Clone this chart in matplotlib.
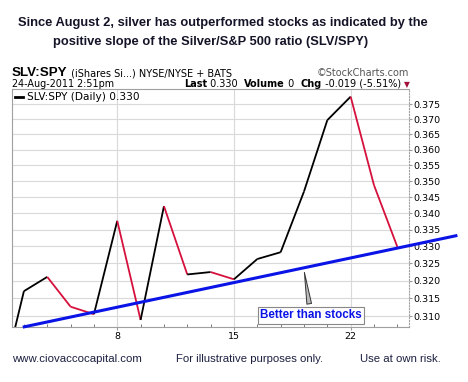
import numpy as np
import matplotlib.pyplot as plt
from matplotlib.ticker import FixedLocator, FormatStrFormatter, NullFormatter

# 2011年8月 SLV:SPY 日足 (index 0 = Aug 1)
days = [1, 2, 3, 4, 5, 8, 9, 10, 11, 12, 15, 16, 17, 18, 19, 22, 23, 24]
ratio = [0.2906, 0.3170, 0.3211, 0.3126, 0.3105, 0.3377, 0.3089, 0.3422, 0.3218,
         0.3225, 0.3204, 0.3263, 0.3283, 0.3467, 0.3697, 0.3776, 0.3487, 0.3299]
tick_days = [8, 15, 22]
y_ticks = [0.310, 0.315, 0.320, 0.325, 0.330, 0.335, 0.340, 0.345,
           0.350, 0.355, 0.360, 0.365, 0.370, 0.375]
# トレンドライン (index, value)
trend_x = [1.015, 19.51]
trend_y = [0.3070, 0.3332]

plt.rcParams['font.family'] = ['DejaVu Sans']
W, H = 468, 382
fig = plt.figure(figsize=(W / 100, H / 100), dpi=100)
ARIAL = ['Liberation Sans', 'DejaVu Sans']

def fx(px):
    return px / W

def fy(py):
    return 1 - py / H

ax = fig.add_axes([fx(12), fy(327), fx(409) - fx(12), fy(89) - fy(327)])
ax.set_yscale('log')
idx = np.arange(len(days))

# 上昇は黒、下落は赤
for i in range(len(idx) - 1):
    c = 'black' if ratio[i + 1] >= ratio[i] else '#d6103c'
    ax.plot(idx[i:i + 2], ratio[i:i + 2], color=c, lw=1.3, solid_capstyle='butt')

ax.plot(trend_x, trend_y, color='#0a14e6', lw=2.2, clip_on=False, zorder=5)

ax.set_xlim(0.49, 17.5)
ax.set_ylim(0.30695, 0.3802)

ax.yaxis.set_major_locator(FixedLocator(y_ticks))
ax.yaxis.set_major_formatter(FormatStrFormatter('%.3f'))
ax.yaxis.set_minor_formatter(NullFormatter())
ax.yaxis.set_minor_locator(FixedLocator([]))
ax.yaxis.tick_right()
ax.tick_params(axis='y', which='major', labelsize=6.8, length=2, color='#999999', pad=1, direction='out')

ax.xaxis.set_major_locator(FixedLocator([days.index(d) for d in tick_days]))
ax.set_xticklabels([str(d) for d in tick_days])
ax.xaxis.set_minor_locator(FixedLocator(list(idx)))
ax.tick_params(axis='x', which='major', labelsize=6.8, length=2, color='#999999', pad=1.5)
ax.tick_params(axis='x', which='minor', length=2, color='#666666', direction='in')

ax.grid(axis='y', color='#d9d9d9', lw=0.8)
ax.grid(axis='x', which='major', color='#d9d9d9', lw=0.8)
ax.set_axisbelow(True)
for s in ['left', 'bottom', 'top']:
    ax.spines[s].set_color('#a0a0a0')
ax.spines['right'].set_color('#a0a0a0')
ax.spines['right'].set_linestyle(':')

# 凡例
ax.plot([0.008, 0.028], [0.966, 0.966], transform=ax.transAxes, color='black', lw=2)
ax.text(0.038, 0.966, 'SLV:SPY (Daily) 0.330', transform=ax.transAxes, fontsize=7.6,
        va='center', ha='left')

# 注釈
ax.annotate('Better than stocks', xy=(13.0, 0.3232), xycoords='data',
            xytext=(13.3, 0.3102), textcoords='data', ha='center', va='center',
            fontsize=8.4, fontweight='bold', color='#0a14e6', family=ARIAL,
            bbox=dict(boxstyle='square,pad=0.2', fc='white', ec='#888888', lw=0.8),
            arrowprops=dict(arrowstyle='wedge,tail_width=0.4', fc='#bbbbbb', ec='#333333', lw=0.7))

# タイトル
fig.text(fx(223), fy(23), 'Since August 2, silver has outperformed stocks as indicated by the',
         ha='center', va='center', fontsize=9.3, fontweight='bold', color='#141428', family=ARIAL)
fig.text(fx(211), fy(42), 'positive slope of the Silver/S&P 500 ratio (SLV/SPY)',
         ha='center', va='center', fontsize=9.3, fontweight='bold', color='#141428', family=ARIAL)

renderer = fig.canvas.get_renderer()

def pieces(x0, y0, parts):
    x = x0
    for txt, weight, size, color, fam in parts:
        t = fig.text(fx(x), fy(y0), txt, ha='left', va='baseline', fontsize=size,
                     fontweight=weight, color=color, family=fam)
        bb = t.get_window_extent(renderer)
        x += bb.width
    return x

DV = ['DejaVu Sans']
pieces(12, 76, [('SLV:SPY', 'bold', 9.6, 'black', ARIAL),
                (' (iShares Si...) NYSE/NYSE + BATS', 'normal', 7, 'black', DV)])
fig.text(fx(409), fy(76), '\u00a9StockCharts.com', ha='right', va='baseline', fontsize=7,
         color='#555555')
pieces(12, 87, [('24-Aug-2011 2:51pm', 'normal', 6.9, 'black', DV)])
pieces(184, 87, [('Last', 'bold', 7, 'black', DV), (' 0.330  ', 'normal', 7, 'black', DV),
                 ('Volume', 'bold', 7, 'black', DV), (' 0  ', 'normal', 7, 'black', DV),
                 ('Chg', 'bold', 7, 'black', DV), (' -0.019 (-5.51%) ', 'normal', 7, 'black', DV),
                 ('\u25bc', 'normal', 5.5, '#a0103a', DV)])

# フッター
fig.text(fx(12), fy(359), 'www.ciovaccocapital.com', ha='left', va='center', fontsize=8.2,
         color='#1c2040', family=ARIAL)
fig.text(fx(176), fy(359), 'For illustrative purposes only.', ha='left', va='center',
         fontsize=8.2, color='#1c2040', family=ARIAL)
fig.text(fx(360), fy(359), 'Use at own risk.', ha='left', va='center', fontsize=8.2,
         color='#1c2040', family=ARIAL)

fig.savefig('out.png', dpi=100)
